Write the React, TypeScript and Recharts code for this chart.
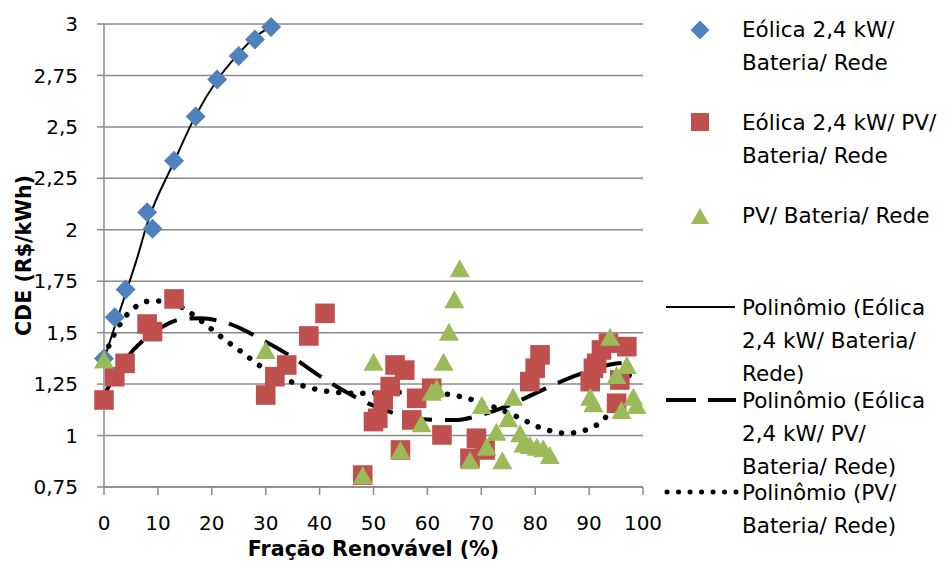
import React from "react";
import { ComposedChart, Scatter, Line, XAxis, YAxis, CartesianGrid } from "recharts";

const FONT = "'DejaVu Sans', Lato, sans-serif";

// ---- Data ----
const xTicks = [0, 10, 20, 30, 40, 50, 60, 70, 80, 90, 100];
const yTicks = [0.75, 1, 1.25, 1.5, 1.75, 2, 2.25, 2.5, 2.75, 3];

const seriesNames = [
  "Eólica 2,4 kW/ Bateria/ Rede",
  "Eólica 2,4 kW/ PV/ Bateria/ Rede",
  "PV/ Bateria/ Rede",
  "Polinômio (Eólica 2,4 kW/ Bateria/ Rede)",
  "Polinômio (Eólica 2,4 kW/ PV/ Bateria/ Rede)",
  "Polinômio (PV/ Bateria/ Rede)",
];

const windBatX = [0, 2, 4, 8, 9, 13, 17, 21, 25, 28, 31];
const windBatY = [1.375, 1.575, 1.71, 2.085, 2.005, 2.335, 2.55, 2.73, 2.845, 2.925, 2.985];

const windPvBatX = [0, 2, 3.9, 8, 9, 13, 30, 31.7, 33.9, 38, 41, 48, 50, 50.8, 51.8, 53.1, 54, 55.8, 55, 57.1, 58, 60.8, 62.7, 67.9, 69.1, 70.7, 79, 80, 80.9, 90.2, 90.8, 91.4, 92.3, 93.6, 97, 95.1, 95.7];
const windPvBatY = [1.173, 1.286, 1.351, 1.542, 1.505, 1.664, 1.197, 1.286, 1.343, 1.484, 1.594, 0.808, 1.068, 1.084, 1.173, 1.238, 1.343, 1.318, 0.93, 1.076, 1.181, 1.23, 1.003, 0.89, 0.987, 0.93, 1.262, 1.327, 1.392, 1.262, 1.327, 1.351, 1.416, 1.449, 1.432, 1.157, 1.27];

const pvBatX = [0, 30, 48, 50, 55, 58.9, 60.8, 61.7, 63, 64, 65, 66, 67.9, 70.1, 71, 72.8, 73.9, 75, 75.9, 77.2, 77.8, 79, 80.3, 81.5, 82.7, 90.2, 90.8, 93.9, 95.1, 96, 97, 98.2, 98.8];
const pvBatY = [1.37, 1.416, 0.808, 1.359, 0.93, 1.06, 1.213, 1.23, 1.359, 1.505, 1.662, 1.813, 0.88, 1.149, 0.946, 1.019, 0.88, 1.084, 1.189, 1.011, 0.962, 0.954, 0.946, 0.938, 0.906, 1.189, 1.157, 1.48, 1.294, 1.124, 1.343, 1.189, 1.149];

const trendWindBatX = [0, 2, 4, 6, 8.2, 12.9, 16.9, 21, 24.9, 27.8, 30.8];
const trendWindBatY = [1.37, 1.53, 1.69, 1.85, 2.045, 2.325, 2.55, 2.728, 2.854, 2.932, 2.985];

const trendWindPvBatX = [0, 4, 10, 15, 18, 23, 30, 35, 40, 45, 50, 55, 60, 65, 70, 75, 80, 85, 90, 95, 98];
const trendWindPvBatY = [1.197, 1.37, 1.515, 1.568, 1.57, 1.545, 1.456, 1.38, 1.29, 1.21, 1.145, 1.1, 1.078, 1.075, 1.1, 1.145, 1.205, 1.265, 1.315, 1.35, 1.355];

const trendPvBatX = [0, 2, 4.8, 9, 13.8, 17.8, 21.8, 25.7, 29.6, 33.9, 38.5, 43.2, 48.1, 54.3, 58.9, 63.9, 68.5, 72.2, 76.6, 81, 85.8, 90.2, 93.9, 96.3, 98.2];
const trendPvBatY = [1.38, 1.497, 1.602, 1.655, 1.631, 1.562, 1.478, 1.403, 1.327, 1.27, 1.23, 1.21, 1.205, 1.21, 1.21, 1.2, 1.173, 1.14, 1.092, 1.038, 1.011, 1.035, 1.116, 1.225, 1.343];

// ---- Styles ----
const BLUE = "#4F81BD";
const RED = "#C0504D";
const GREEN = "#9BBB59";
const GRID = "#8a8a8a";

const zip = (xs: number[], ys: number[]) => xs.map((x, i) => ({ x, y: ys[i] }));

const windBat = zip(windBatX, windBatY);
const windPvBat = zip(windPvBatX, windPvBatY);
const pvBat = zip(pvBatX, pvBatY);
const trendWindBat = zip(trendWindBatX, trendWindBatY);
const trendWindPvBat = zip(trendWindPvBatX, trendWindPvBatY);
const trendPvBat = zip(trendPvBatX, trendPvBatY);

const diamondPath = (cx: number, cy: number, r: number) =>
  `M${cx},${cy - r}L${cx + r},${cy}L${cx},${cy + r}L${cx - r},${cy}Z`;
const squarePath = (cx: number, cy: number, h: number) =>
  `M${cx - h},${cy - h}H${cx + h}V${cy + h}H${cx - h}Z`;
const trianglePath = (cx: number, cy: number, w: number, h: number) =>
  `M${cx},${cy - h / 2}L${cx + w / 2},${cy + h / 2}L${cx - w / 2},${cy + h / 2}Z`;

const Diamond = (p: any) =>
  p.cx == null ? null : <path d={diamondPath(p.cx, p.cy, 10)} fill={BLUE} />;
const Square = (p: any) =>
  p.cx == null ? null : <path d={squarePath(p.cx, p.cy, 9.8)} fill={RED} />;
const Triangle = (p: any) =>
  p.cx == null ? null : <path d={trianglePath(p.cx, p.cy, 20, 18)} fill={GREEN} />;

const fmt = (v: number) => String(v).replace(".", ",");

const legendRows: { name: string; lines: string[]; ys: number[]; mark: string; my: number }[] = [
  { name: seriesNames[0], lines: ["Eólica 2,4 kW/", "Bateria/ Rede"], ys: [29, 62], mark: "diamond", my: 30 },
  { name: seriesNames[1], lines: ["Eólica 2,4 kW/ PV/", "Bateria/ Rede"], ys: [122, 155], mark: "square", my: 122 },
  { name: seriesNames[2], lines: ["PV/ Bateria/ Rede"], ys: [215], mark: "triangle", my: 216 },
  { name: seriesNames[3], lines: ["Polinômio (Eólica", "2,4 kW/ Bateria/", "Rede)"], ys: [307, 340, 373], mark: "solid", my: 307 },
  { name: seriesNames[4], lines: ["Polinômio (Eólica", "2,4 kW/ PV/", "Bateria/ Rede)"], ys: [400, 433, 466], mark: "dashed", my: 400 },
  { name: seriesNames[5], lines: ["Polinômio (PV/", "Bateria/ Rede)"], ys: [492, 525], mark: "dotted", my: 492 },
];

const LegendMark = ({ mark, y }: { mark: string; y: number }) => {
  const cx = 700;
  if (mark === "diamond") return <path d={diamondPath(cx, y, 9.5)} fill={BLUE} />;
  if (mark === "square") return <path d={squarePath(cx, y, 9)} fill={RED} />;
  if (mark === "triangle") return <path d={trianglePath(cx, y, 18, 16)} fill={GREEN} />;
  if (mark === "solid") return <line x1={666} x2={735} y1={y} y2={y} stroke="#000" strokeWidth={2} />;
  if (mark === "dashed")
    return <line x1={666} x2={736} y1={y} y2={y} stroke="#000" strokeWidth={4} strokeDasharray="30 12" />;
  return (
    <line x1={667} x2={736} y1={y} y2={y} stroke="#000" strokeWidth={5} strokeLinecap="round" strokeDasharray="0.1 11.4" />
  );
};

export default function App() {
  return (
    <div style={{ position: "absolute", left: 0, top: 0, width: 947, height: 564, background: "#fff" }}>
      <ComposedChart
        width={947}
        height={564}
        margin={{ top: 24, right: 304, bottom: 0, left: 0 }}
        style={{ fontFamily: FONT }}
      >
        <CartesianGrid vertical={false} stroke={GRID} strokeWidth={1.5} />
        <XAxis
          type="number"
          dataKey="x"
          domain={[0, 100]}
          ticks={xTicks}
          height={77}
          tickSize={8}
          tickMargin={21}
          stroke={GRID}
          strokeWidth={1.5}
          tick={{ fill: "#000", fontSize: 20, fontFamily: FONT }}
          label={{
            value: "Fração Renovável (%)",
            position: "insideBottom",
            offset: 8,
            fill: "#000",
            fontSize: 20.6,
            fontWeight: 700,
            fontFamily: FONT,
          }}
        />
        <YAxis
          type="number"
          dataKey="y"
          domain={[0.75, 3]}
          ticks={yTicks}
          width={104}
          tickSize={7}
          tickMargin={19}
          stroke={GRID}
          strokeWidth={1.5}
          tickFormatter={fmt}
          tick={{ fill: "#000", fontSize: 20, fontFamily: FONT }}
          label={{
            value: "CDE (R$/kWh)",
            angle: -90,
            position: "center",
            dx: -28,
            fill: "#000",
            fontSize: 20.6,
            fontWeight: 700,
            fontFamily: FONT,
          }}
        />
        <Scatter name={seriesNames[0]} data={windBat} dataKey="y" shape={Diamond} isAnimationActive={false} />
        <Scatter name={seriesNames[1]} data={windPvBat} dataKey="y" shape={Square} isAnimationActive={false} />
        <Scatter name={seriesNames[2]} data={pvBat} dataKey="y" shape={Triangle} isAnimationActive={false} />
        <Line
          name={seriesNames[3]}
          data={trendWindBat}
          dataKey="y"
          type="monotone"
          stroke="#000"
          strokeWidth={2}
          dot={false}
          activeDot={false}
          isAnimationActive={false}
        />
        <Line
          name={seriesNames[4]}
          data={trendWindPvBat}
          dataKey="y"
          type="monotone"
          stroke="#000"
          strokeWidth={4}
          strokeDasharray="27 13"
          dot={false}
          activeDot={false}
          isAnimationActive={false}
        />
        <Line
          name={seriesNames[5]}
          data={trendPvBat}
          dataKey="y"
          type="monotone"
          stroke="#000"
          strokeWidth={5.5}
          strokeLinecap="round"
          strokeDasharray="0.1 12"
          dot={false}
          activeDot={false}
          isAnimationActive={false}
        />
      </ComposedChart>
      <svg
        width={947}
        height={564}
        style={{ position: "absolute", left: 0, top: 0, pointerEvents: "none" }}
      >
        {legendRows.map((row) => (
          <g key={row.name}>
            <LegendMark mark={row.mark} y={row.my} />
            {row.lines.map((t, i) => (
              <text
                key={i}
                x={742}
                y={row.ys[i]}
                dominantBaseline="central"
                fontFamily={FONT}
                fontSize={21.5}
                fill="#000"
              >
                {t}
              </text>
            ))}
          </g>
        ))}
      </svg>
    </div>
  );
}
